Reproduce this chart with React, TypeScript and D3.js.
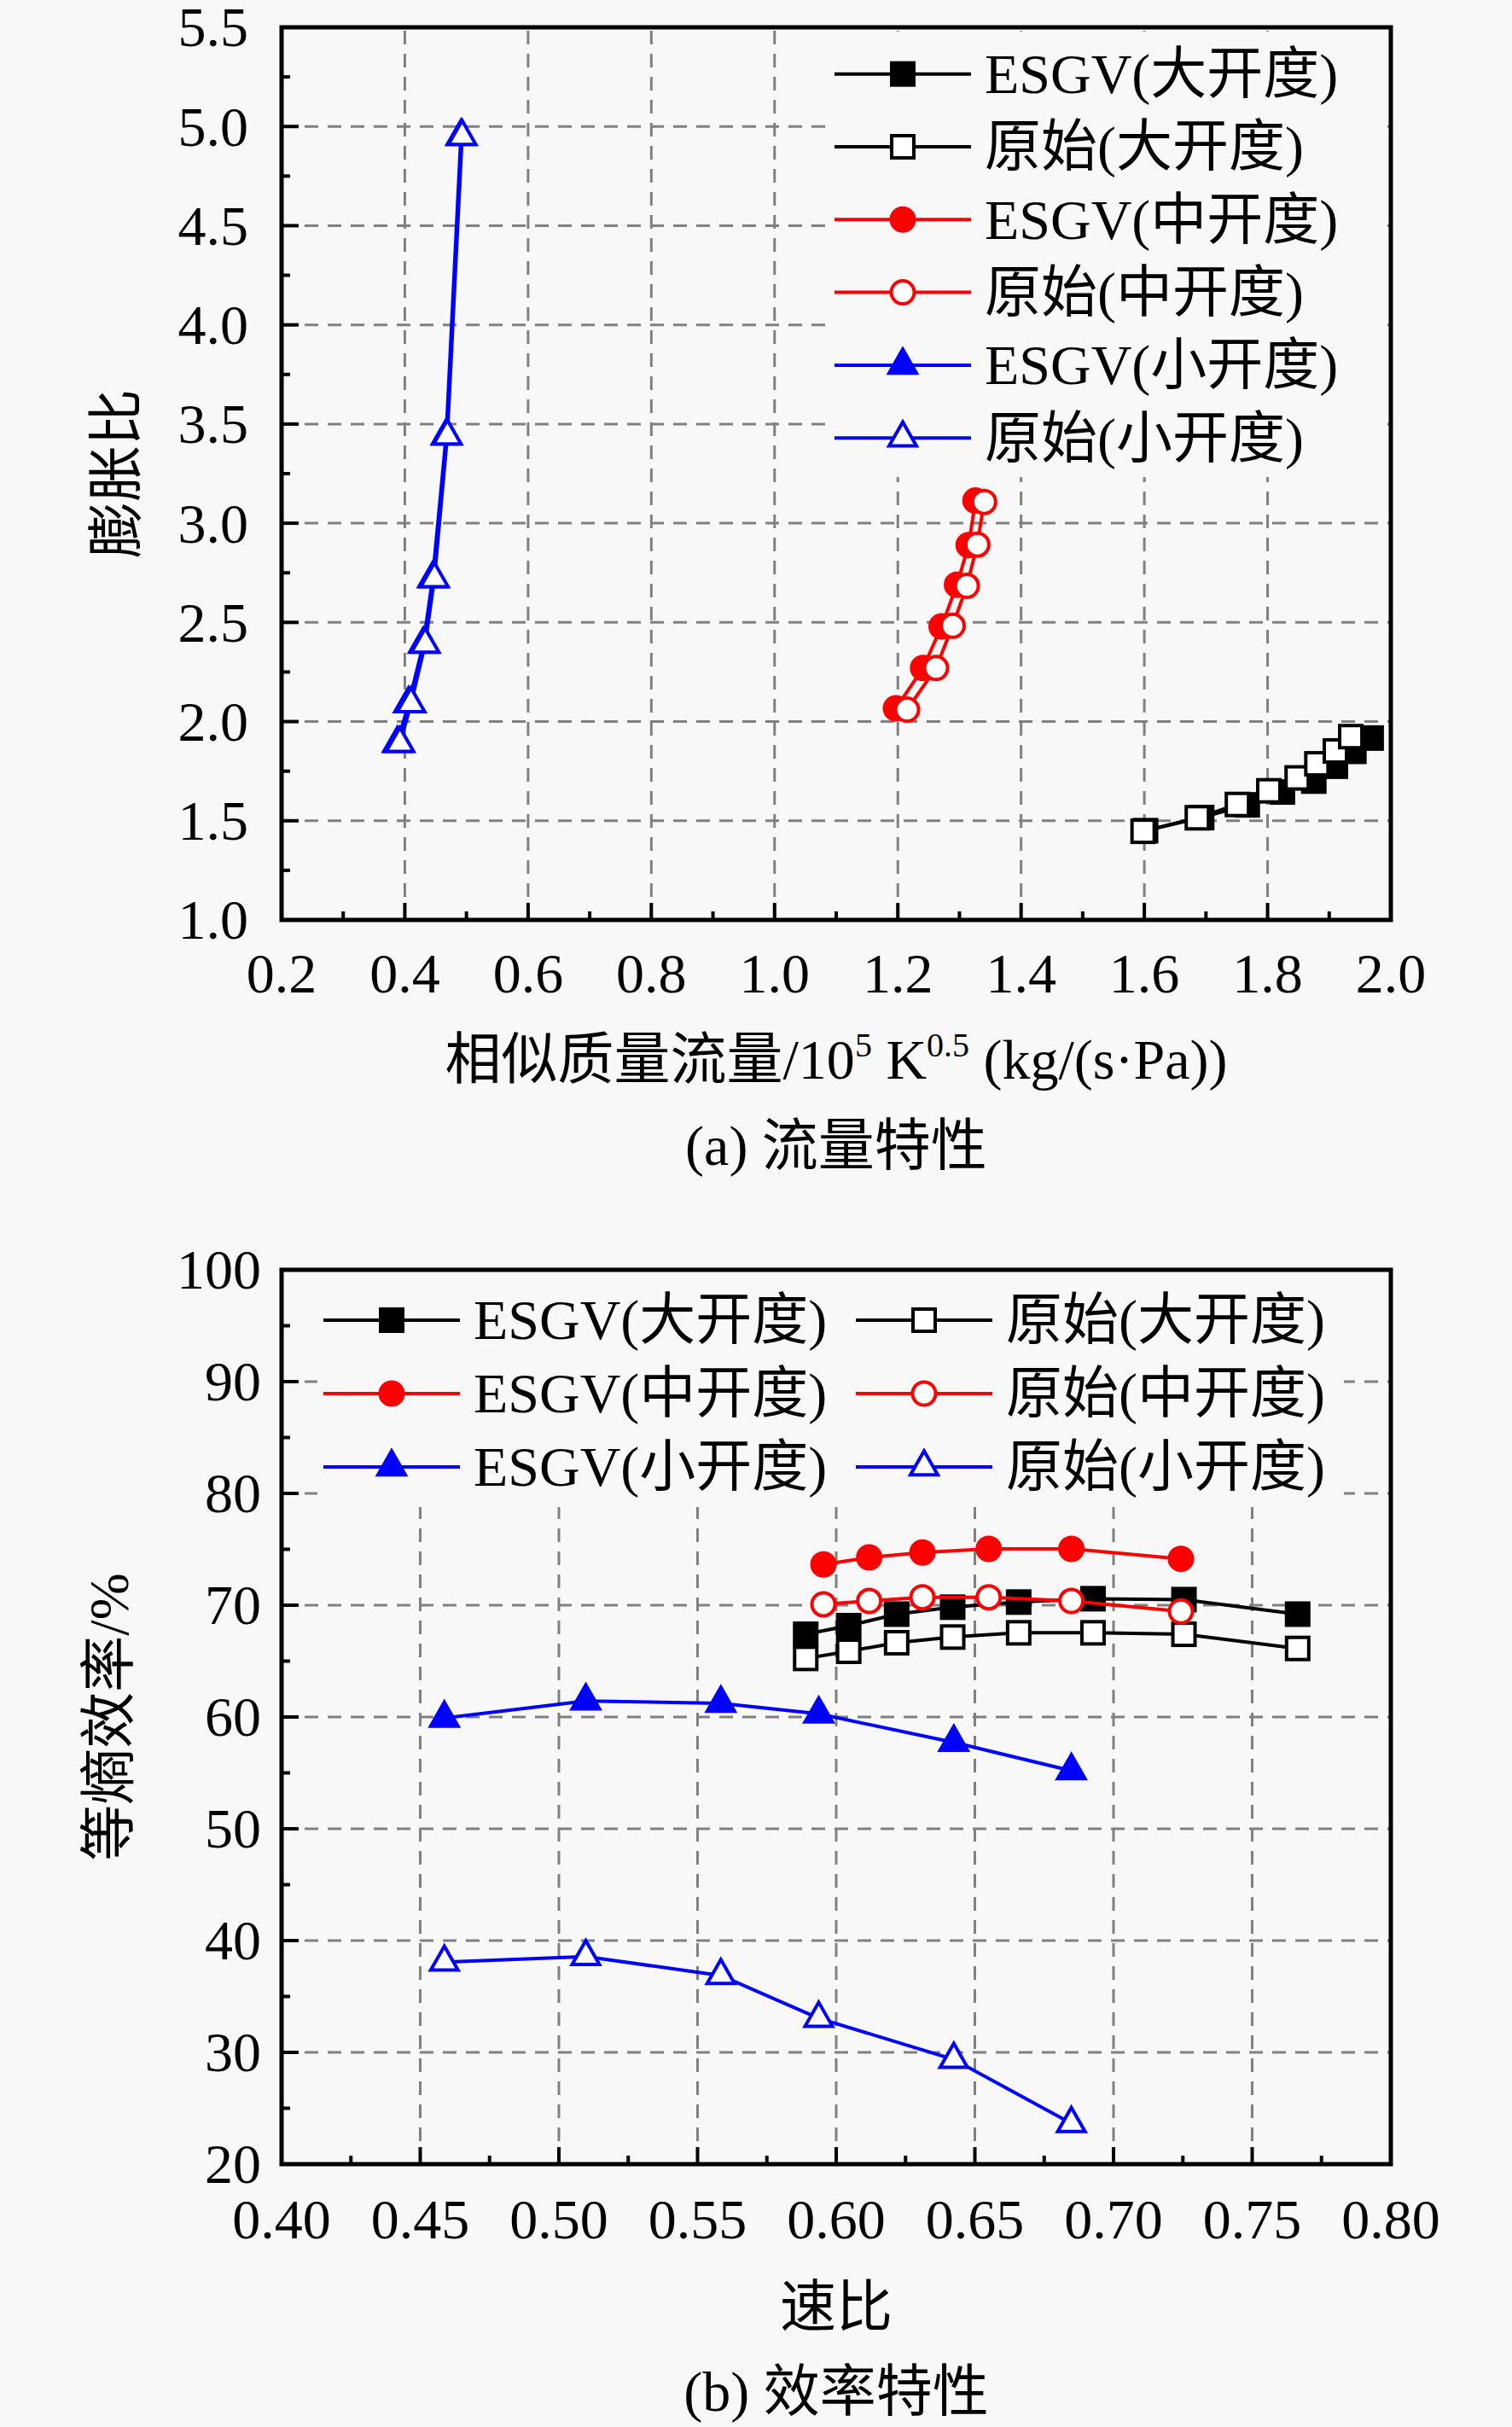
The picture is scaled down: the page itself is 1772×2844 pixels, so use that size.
import React from "react";
import * as d3 from "d3";

// ---------- data: (a) flow characteristics ----------
const flowXTicks = [0.2, 0.4, 0.6, 0.8, 1.0, 1.2, 1.4, 1.6, 1.8, 2.0];
const flowYTicks = [1.0, 1.5, 2.0, 2.5, 3.0, 3.5, 4.0, 4.5, 5.0, 5.5];

const esgvLargeFlowX = [1.602, 1.693, 1.767, 1.824, 1.875, 1.91, 1.94, 1.968];
const esgvLargePR = [1.45, 1.516, 1.58, 1.645, 1.7, 1.775, 1.85, 1.917];
const origLargeFlowX = [1.598, 1.686, 1.751, 1.802, 1.848, 1.88, 1.91, 1.935];
const origLargePR = [1.447, 1.515, 1.582, 1.651, 1.716, 1.787, 1.852, 1.924];

const esgvMidFlowX = [1.197, 1.241, 1.271, 1.296, 1.315, 1.326];
const esgvMidPR = [2.067, 2.27, 2.48, 2.69, 2.89, 3.114];
const origMidFlowX = [1.215, 1.262, 1.289, 1.312, 1.329, 1.34];
const origMidPR = [2.06, 2.27, 2.483, 2.684, 2.892, 3.107];

const esgvSmallFlowX = [0.388, 0.406, 0.43, 0.445, 0.467, 0.491];
const esgvSmallPR = [1.89, 2.09, 2.39, 2.72, 3.44, 4.95];
const origSmallFlowX = [0.392, 0.41, 0.433, 0.448, 0.469, 0.493];
const origSmallPR = [1.89, 2.09, 2.39, 2.72, 3.44, 4.95];

// ---------- data: (b) efficiency characteristics ----------
const effXTicks = [0.4, 0.45, 0.5, 0.55, 0.6, 0.65, 0.7, 0.75, 0.8];
const effYTicks = [20, 30, 40, 50, 60, 70, 80, 90, 100];

const largeSpeedRatio = [0.589, 0.6045, 0.6218, 0.642, 0.6658, 0.6926, 0.7254, 0.7664];
const esgvLargeEff = [67.4, 68.17, 69.2, 69.82, 70.28, 70.58, 70.5, 69.2];
const origLargeEff = [65.24, 65.88, 66.64, 67.15, 67.53, 67.53, 67.4, 66.13];

const midSpeedRatio = [0.5954, 0.6119, 0.6311, 0.655, 0.6848, 0.7243];
const esgvMidEff = [73.64, 74.27, 74.71, 75.04, 75.04, 74.15];
const origMidEff = [70.08, 70.38, 70.71, 70.71, 70.38, 69.44];

const smallSpeedRatio = [0.4587, 0.5097, 0.5584, 0.5937, 0.6424, 0.6848];
const esgvSmallEff = [59.9, 61.43, 61.22, 60.28, 57.73, 55.19];
const origSmallEff = [38.07, 38.57, 36.87, 33.05, 29.37, 23.64];

const seriesNames = [
  "ESGV(大开度)",
  "原始(大开度)",
  "ESGV(中开度)",
  "原始(中开度)",
  "ESGV(小开度)",
  "原始(小开度)",
];

type Shape = "square" | "circle" | "triangle";
type Style = { color: string; shape: Shape; filled: boolean };
const styles: Style[] = [
  { color: "#000000", shape: "square", filled: true },
  { color: "#000000", shape: "square", filled: false },
  { color: "#ff0000", shape: "circle", filled: true },
  { color: "#ff0000", shape: "circle", filled: false },
  { color: "#0000ff", shape: "triangle", filled: true },
  { color: "#0000ff", shape: "triangle", filled: false },
];

const BG = "#f8f8f8";
const FONT = "'Liberation Serif', 'Times New Roman', 'Noto Sans CJK SC', serif";
const FS = 66;

function Marker({ x, y, st }: { x: number; y: number; st: Style }) {
  const fill = st.filled ? st.color : "#ffffff";
  if (st.shape === "square") {
    const s = 26;
    return (
      <rect x={x - s / 2} y={y - s / 2} width={s} height={s} fill={fill} stroke={st.color} strokeWidth={4} />
    );
  }
  if (st.shape === "circle") {
    return <circle cx={x} cy={y} r={13.5} fill={fill} stroke={st.color} strokeWidth={4} />;
  }
  const w = 32;
  const h = 28;
  const p = `M${x},${y - (2 * h) / 3} L${x + w / 2},${y + h / 3} L${x - w / 2},${y + h / 3} Z`;
  return <path d={p} fill={fill} stroke={st.color} strokeWidth={4} strokeLinejoin="miter" />;
}

function Series({ xs, ys, st, sx, sy }: any) {
  const pts: [number, number][] = xs.map((v: number, i: number) => [sx(v), sy(ys[i])]);
  const line = d3.line()(pts) || "";
  return (
    <g>
      <path d={line} fill="none" stroke={st.color} strokeWidth={4} />
      {pts.map((p, i) => (
        <Marker key={i} x={p[0]} y={p[1]} st={st} />
      ))}
    </g>
  );
}

function LegendItem({ x, y, st, label, lineLen }: any) {
  return (
    <g>
      <line x1={x} x2={x + lineLen} y1={y} y2={y} stroke={st.color} strokeWidth={4} />
      <Marker x={x + lineLen / 2} y={y} st={st} />
      <text x={x + lineLen + 16} y={y} dy="0.34em" fontSize={FS} fontFamily={FONT} fill="#000">
        {label}
      </text>
    </g>
  );
}

function Frame({ sx, sy, xTicks, yTicks, xMinor, yMinor, xFmt, yFmt, yLabelRight, xLabelBase }: any) {
  const [x0, x1] = sx.range();
  const [y0, y1] = sy.range(); // y0 bottom, y1 top
  const gridX = xTicks.slice(1, -1);
  const gridY = yTicks.slice(1, -1);
  return (
    <g>
      {gridX.map((t: number, i: number) => (
        <line key={"gx" + i} x1={sx(t)} x2={sx(t)} y1={y0} y2={y1} stroke="#808080" strokeWidth={3} strokeDasharray="16,11" />
      ))}
      {gridY.map((t: number, i: number) => (
        <line key={"gy" + i} x1={x0} x2={x1} y1={sy(t)} y2={sy(t)} stroke="#808080" strokeWidth={3} strokeDasharray="16,11" />
      ))}
      {/* ticks */}
      {xTicks.map((t: number, i: number) => (
        <line key={"tx" + i} x1={sx(t)} x2={sx(t)} y1={y0} y2={y0 - 20} stroke="#000" strokeWidth={4} />
      ))}
      {xMinor.map((t: number, i: number) => (
        <line key={"mx" + i} x1={sx(t)} x2={sx(t)} y1={y0} y2={y0 - 10} stroke="#000" strokeWidth={4} />
      ))}
      {yTicks.map((t: number, i: number) => (
        <line key={"ty" + i} x1={x0} x2={x0 + 20} y1={sy(t)} y2={sy(t)} stroke="#000" strokeWidth={4} />
      ))}
      {yMinor.map((t: number, i: number) => (
        <line key={"my" + i} x1={x0} x2={x0 + 10} y1={sy(t)} y2={sy(t)} stroke="#000" strokeWidth={4} />
      ))}
      <rect x={x0} y={y1} width={x1 - x0} height={y0 - y1} fill="none" stroke="#000" strokeWidth={5} />
      {xTicks.map((t: number, i: number) => (
        <text key={"lx" + i} x={sx(t)} y={xLabelBase} textAnchor="middle" fontSize={FS} fontFamily={FONT}>
          {xFmt(t)}
        </text>
      ))}
      {yTicks.map((t: number, i: number) => (
        <text key={"ly" + i} x={yLabelRight} y={sy(t)} dy="0.34em" textAnchor="end" fontSize={FS} fontFamily={FONT}>
          {yFmt(t)}
        </text>
      ))}
    </g>
  );
}

export default function App() {
  // panel (a)
  const sxA = d3.scaleLinear().domain([0.2, 2.0]).range([330, 1630]);
  const syA = d3.scaleLinear().domain([1.0, 5.5]).range([1078, 32]);
  const xMinorA = d3.range(0.3, 2.0, 0.2);
  const yMinorA = d3.range(1.25, 5.5, 0.5);

  // panel (b)
  const sxB = d3.scaleLinear().domain([0.4, 0.8]).range([330, 1630]);
  const syB = d3.scaleLinear().domain([20, 100]).range([2536, 1488]);
  const xMinorB = d3.range(0.425, 0.8, 0.05);
  const yMinorB = d3.range(25, 100, 10);

  const flowSeries = [
    [esgvLargeFlowX, esgvLargePR],
    [origLargeFlowX, origLargePR],
    [esgvMidFlowX, esgvMidPR],
    [origMidFlowX, origMidPR],
    [esgvSmallFlowX, esgvSmallPR],
    [origSmallFlowX, origSmallPR],
  ];
  const effSeries = [
    [largeSpeedRatio, esgvLargeEff],
    [largeSpeedRatio, origLargeEff],
    [midSpeedRatio, esgvMidEff],
    [midSpeedRatio, origMidEff],
    [smallSpeedRatio, esgvSmallEff],
    [smallSpeedRatio, origSmallEff],
  ];

  const fmt1 = d3.format(".1f");
  const fmt2 = d3.format(".2f");
  const fmt0 = d3.format("d");

  return (
    <svg
      width={1772}
      height={2844}
      viewBox="0 0 1772 2844"
      style={{ position: "absolute", left: 0, top: 0, background: BG }}
    >
      <rect x={0} y={0} width={1772} height={2844} fill={BG} />

      {/* ===== Panel (a) ===== */}
      <Frame
        sx={sxA}
        sy={syA}
        xTicks={flowXTicks}
        yTicks={flowYTicks}
        xMinor={xMinorA}
        yMinor={yMinorA}
        xFmt={fmt1}
        yFmt={fmt1}
        yLabelRight={291}
        xLabelBase={1163}
      />
      {/* legend background hides grid */}
      <rect x={968} y={37} width={657} height={522} fill={BG} />
      {flowSeries.map((s, i) => (
        <Series key={i} xs={s[0]} ys={s[1]} st={styles[i]} sx={sxA} sy={syA} />
      ))}
      {seriesNames.map((n, i) => (
        <LegendItem key={i} x={978} y={86.7 + i * 85.3} st={styles[i]} label={n} lineLen={160} />
      ))}
      <text x={980} y={1264} textAnchor="middle" fontSize={FS} fontFamily={FONT}>
        相似质量流量/10
        <tspan fontSize={40} dy={-26}>5</tspan>
        <tspan dy={26}> K</tspan>
        <tspan fontSize={40} dy={-26}>0.5</tspan>
        <tspan dy={26}> (kg/(s·Pa))</tspan>
      </text>
      <text x={980} y={1365} textAnchor="middle" fontSize={FS} fontFamily={FONT}>
        (a) 流量特性
      </text>
      <text
        transform="translate(136,555) rotate(-90)"
        textAnchor="middle"
        dominantBaseline="central"
        fontSize={FS}
        fontFamily={FONT}
      >
        膨胀比
      </text>

      {/* ===== Panel (b) ===== */}
      <Frame
        sx={sxB}
        sy={syB}
        xTicks={effXTicks}
        yTicks={effYTicks}
        xMinor={xMinorB}
        yMinor={yMinorB}
        xFmt={fmt2}
        yFmt={fmt0}
        yLabelRight={306}
        xLabelBase={2623}
      />
      <rect x={372} y={1494} width={1203} height={272} fill={BG} />
      {effSeries.map((s, i) => (
        <Series key={i} xs={s[0]} ys={s[1]} st={styles[i]} sx={sxB} sy={syB} />
      ))}
      {seriesNames.map((n, i) => (
        <LegendItem
          key={i}
          x={i % 2 === 0 ? 379 : 1003}
          y={1547 + Math.floor(i / 2) * 86}
          st={styles[i]}
          label={n}
          lineLen={160}
        />
      ))}
      <text x={980} y={2726} textAnchor="middle" fontSize={FS} fontFamily={FONT}>
        速比
      </text>
      <text x={980} y={2825} textAnchor="middle" fontSize={FS} fontFamily={FONT}>
        (b) 效率特性
      </text>
      <text
        transform="translate(127,2012) rotate(-90)"
        textAnchor="middle"
        dominantBaseline="central"
        fontSize={FS}
        fontFamily={FONT}
      >
        等熵效率/%
      </text>
    </svg>
  );
}
